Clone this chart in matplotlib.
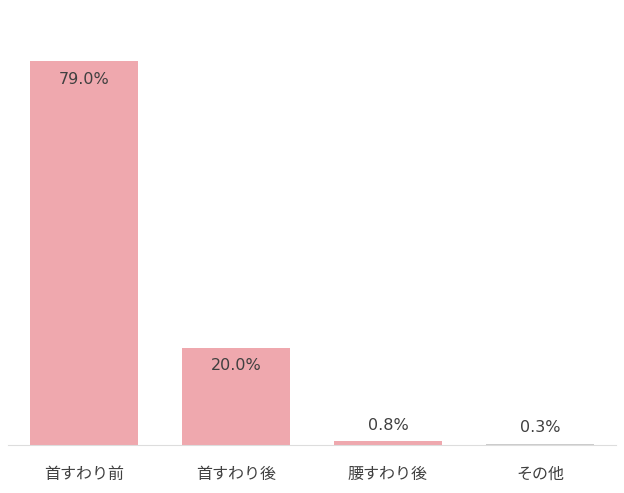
import matplotlib
matplotlib.use('Agg')
import matplotlib.pyplot as plt

plt.rcParams['font.family'] = ['DejaVu Sans', 'Noto Sans CJK JP']

# data
categories = ['首すわり前', '首すわり後', '腰すわり後', 'その他']
values = [79.0, 20.0, 0.8, 0.3]
bar_colors = ['#EFA8AE', '#EFA8AE', '#EFA8AE', '#CCCCCC']

fig = plt.figure(figsize=(6.24, 4.93), dpi=100)
ax = fig.add_axes([8 / 624, 48 / 493, 608 / 624, 435 / 493])

bars = ax.bar(range(len(categories)), values, width=0.71, color=bar_colors)

ax.set_xlim(-0.5, len(categories) - 0.5)
ax.set_ylim(0, 435 / ((445 - 61) / 79.0))

# value labels: inside for tall bars, above for short ones
for i, v in enumerate(values):
    off = -18 if v > 10 else 16
    ax.annotate(f'{v:.1f}%', (i, v), xytext=(0, off), textcoords='offset pixels',
                ha='center', va='center', fontsize=11.5, color='#404040')

ax.set_xticks(range(len(categories)))
ax.set_xticklabels(categories, fontsize=11.5, color='#404040',
                   family=['Noto Sans CJK JP', 'DejaVu Sans'])
ax.tick_params(axis='x', length=0, pad=15)
ax.set_yticks([])
for s in ['top', 'right', 'left']:
    ax.spines[s].set_visible(False)
ax.spines['bottom'].set_color('#DDDDDD')
ax.spines['bottom'].set_linewidth(0.8)

fig.savefig('out.png', dpi=100)
